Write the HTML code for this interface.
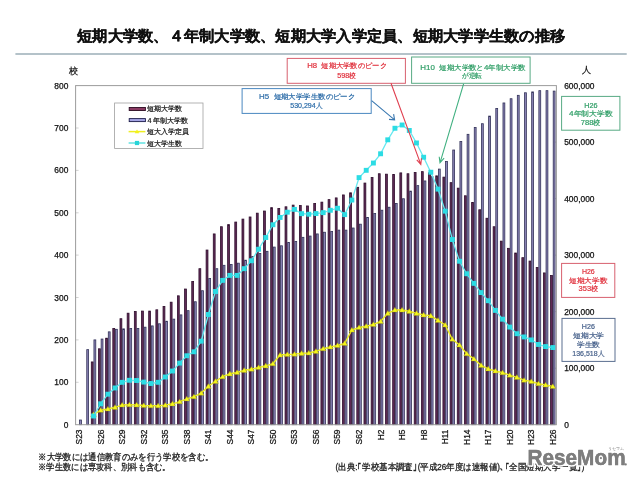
<!DOCTYPE html>
<html lang="ja"><head><meta charset="utf-8">
<style>
html,body{margin:0;padding:0;background:#fff;width:640px;height:480px;overflow:hidden}
svg{display:block;font-family:"Liberation Sans",sans-serif;will-change:transform}
</style></head><body>
<svg width="640" height="480" viewBox="0 0 640 480">
<rect width="640" height="480" fill="#fff"/>
<text x="77" y="40.8" font-size="14.8" font-weight="bold" fill="#111" stroke="#111" stroke-width="0.3" textLength="488" lengthAdjust="spacingAndGlyphs">短期大学数、４年制大学数、短期大学入学定員、短期大学学生数の推移</text>
<line x1="15.4" y1="54" x2="626.7" y2="54" stroke="#b4c2c9" stroke-width="1.9"/>
<g font-size="8.4" fill="#111" stroke="#111" stroke-width="0.25">
<text x="68.3" y="427.7" text-anchor="end">0</text>
<text x="68.3" y="385.3" text-anchor="end">100</text>
<line x1="75.6" y1="382.3" x2="78.6" y2="382.3" stroke="#c8c8c8" stroke-width="0.8"/>
<text x="68.3" y="342.9" text-anchor="end">200</text>
<line x1="75.6" y1="339.9" x2="78.6" y2="339.9" stroke="#c8c8c8" stroke-width="0.8"/>
<text x="68.3" y="300.5" text-anchor="end">300</text>
<line x1="75.6" y1="297.5" x2="78.6" y2="297.5" stroke="#c8c8c8" stroke-width="0.8"/>
<text x="68.3" y="258.1" text-anchor="end">400</text>
<line x1="75.6" y1="255.1" x2="78.6" y2="255.1" stroke="#c8c8c8" stroke-width="0.8"/>
<text x="68.3" y="215.8" text-anchor="end">500</text>
<line x1="75.6" y1="212.8" x2="78.6" y2="212.8" stroke="#c8c8c8" stroke-width="0.8"/>
<text x="68.3" y="173.4" text-anchor="end">600</text>
<line x1="75.6" y1="170.4" x2="78.6" y2="170.4" stroke="#c8c8c8" stroke-width="0.8"/>
<text x="68.3" y="131.0" text-anchor="end">700</text>
<line x1="75.6" y1="128.0" x2="78.6" y2="128.0" stroke="#c8c8c8" stroke-width="0.8"/>
<text x="68.3" y="88.6" text-anchor="end">800</text>
<text x="564.2" y="427.8">0</text>
<text x="564.2" y="371.3">100,000</text>
<line x1="553.4" y1="368.2" x2="556.4" y2="368.2" stroke="#c8c8c8" stroke-width="0.8"/>
<text x="564.2" y="314.8">200,000</text>
<line x1="553.4" y1="311.7" x2="556.4" y2="311.7" stroke="#c8c8c8" stroke-width="0.8"/>
<text x="564.2" y="258.2">300,000</text>
<line x1="553.4" y1="255.1" x2="556.4" y2="255.1" stroke="#c8c8c8" stroke-width="0.8"/>
<text x="564.2" y="201.7">400,000</text>
<line x1="553.4" y1="198.6" x2="556.4" y2="198.6" stroke="#c8c8c8" stroke-width="0.8"/>
<text x="564.2" y="145.2">500,000</text>
<line x1="553.4" y1="142.1" x2="556.4" y2="142.1" stroke="#c8c8c8" stroke-width="0.8"/>
<text x="564.2" y="88.7">600,000</text>
<text transform="translate(82.1,429.5) rotate(-90)" text-anchor="end">S23</text>
<text transform="translate(103.6,429.5) rotate(-90)" text-anchor="end">S26</text>
<text transform="translate(125.1,429.5) rotate(-90)" text-anchor="end">S29</text>
<text transform="translate(146.7,429.5) rotate(-90)" text-anchor="end">S32</text>
<text transform="translate(168.2,429.5) rotate(-90)" text-anchor="end">S35</text>
<text transform="translate(189.7,429.5) rotate(-90)" text-anchor="end">S38</text>
<text transform="translate(211.3,429.5) rotate(-90)" text-anchor="end">S41</text>
<text transform="translate(232.8,429.5) rotate(-90)" text-anchor="end">S44</text>
<text transform="translate(254.3,429.5) rotate(-90)" text-anchor="end">S47</text>
<text transform="translate(275.8,429.5) rotate(-90)" text-anchor="end">S50</text>
<text transform="translate(297.4,429.5) rotate(-90)" text-anchor="end">S53</text>
<text transform="translate(318.9,429.5) rotate(-90)" text-anchor="end">S56</text>
<text transform="translate(340.4,429.5) rotate(-90)" text-anchor="end">S59</text>
<text transform="translate(362.0,429.5) rotate(-90)" text-anchor="end">S62</text>
<text transform="translate(383.5,429.5) rotate(-90)" text-anchor="end">H2</text>
<text transform="translate(405.0,429.5) rotate(-90)" text-anchor="end">H5</text>
<text transform="translate(426.5,429.5) rotate(-90)" text-anchor="end">H8</text>
<text transform="translate(448.1,429.5) rotate(-90)" text-anchor="end">H11</text>
<text transform="translate(469.6,429.5) rotate(-90)" text-anchor="end">H14</text>
<text transform="translate(491.1,429.5) rotate(-90)" text-anchor="end">H17</text>
<text transform="translate(512.7,429.5) rotate(-90)" text-anchor="end">H20</text>
<text transform="translate(534.2,429.5) rotate(-90)" text-anchor="end">H23</text>
<text transform="translate(555.7,429.5) rotate(-90)" text-anchor="end">H26</text>
<text x="69" y="73.5" font-size="9">校</text>
<text x="582.2" y="72.9" font-size="9">人</text>
</g>
<rect x="79.59" y="420.01" width="1.85" height="4.69" fill="#8c84b8" stroke="#323258" stroke-width="0.8"/>
<rect x="86.76" y="349.65" width="1.85" height="75.05" fill="#8c84b8" stroke="#323258" stroke-width="0.8"/>
<rect x="91.29" y="361.94" width="1.85" height="62.76" fill="#602a56" stroke="#2e0e2c" stroke-width="0.8"/>
<rect x="93.94" y="339.90" width="1.85" height="84.80" fill="#8c84b8" stroke="#323258" stroke-width="0.8"/>
<rect x="98.47" y="348.80" width="1.85" height="75.90" fill="#602a56" stroke="#2e0e2c" stroke-width="0.8"/>
<rect x="101.12" y="339.05" width="1.85" height="85.65" fill="#8c84b8" stroke="#323258" stroke-width="0.8"/>
<rect x="105.64" y="338.21" width="1.85" height="86.49" fill="#602a56" stroke="#2e0e2c" stroke-width="0.8"/>
<rect x="108.29" y="331.85" width="1.85" height="92.85" fill="#8c84b8" stroke="#323258" stroke-width="0.8"/>
<rect x="112.82" y="328.46" width="1.85" height="96.24" fill="#602a56" stroke="#2e0e2c" stroke-width="0.8"/>
<rect x="115.47" y="329.30" width="1.85" height="95.40" fill="#8c84b8" stroke="#323258" stroke-width="0.8"/>
<rect x="119.99" y="318.71" width="1.85" height="105.99" fill="#602a56" stroke="#2e0e2c" stroke-width="0.8"/>
<rect x="122.64" y="328.88" width="1.85" height="95.82" fill="#8c84b8" stroke="#323258" stroke-width="0.8"/>
<rect x="127.17" y="313.20" width="1.85" height="111.50" fill="#602a56" stroke="#2e0e2c" stroke-width="0.8"/>
<rect x="129.82" y="328.46" width="1.85" height="96.24" fill="#8c84b8" stroke="#323258" stroke-width="0.8"/>
<rect x="134.35" y="311.50" width="1.85" height="113.20" fill="#602a56" stroke="#2e0e2c" stroke-width="0.8"/>
<rect x="137.00" y="328.46" width="1.85" height="96.24" fill="#8c84b8" stroke="#323258" stroke-width="0.8"/>
<rect x="141.52" y="311.08" width="1.85" height="113.62" fill="#602a56" stroke="#2e0e2c" stroke-width="0.8"/>
<rect x="144.17" y="327.18" width="1.85" height="97.52" fill="#8c84b8" stroke="#323258" stroke-width="0.8"/>
<rect x="148.70" y="311.08" width="1.85" height="113.62" fill="#602a56" stroke="#2e0e2c" stroke-width="0.8"/>
<rect x="151.35" y="325.91" width="1.85" height="98.79" fill="#8c84b8" stroke="#323258" stroke-width="0.8"/>
<rect x="155.88" y="309.81" width="1.85" height="114.89" fill="#602a56" stroke="#2e0e2c" stroke-width="0.8"/>
<rect x="158.53" y="323.79" width="1.85" height="100.91" fill="#8c84b8" stroke="#323258" stroke-width="0.8"/>
<rect x="163.05" y="306.41" width="1.85" height="118.28" fill="#602a56" stroke="#2e0e2c" stroke-width="0.8"/>
<rect x="165.70" y="321.25" width="1.85" height="103.45" fill="#8c84b8" stroke="#323258" stroke-width="0.8"/>
<rect x="170.23" y="302.18" width="1.85" height="122.52" fill="#602a56" stroke="#2e0e2c" stroke-width="0.8"/>
<rect x="172.88" y="319.13" width="1.85" height="105.57" fill="#8c84b8" stroke="#323258" stroke-width="0.8"/>
<rect x="177.40" y="295.82" width="1.85" height="128.88" fill="#602a56" stroke="#2e0e2c" stroke-width="0.8"/>
<rect x="180.05" y="314.89" width="1.85" height="109.81" fill="#8c84b8" stroke="#323258" stroke-width="0.8"/>
<rect x="184.58" y="289.04" width="1.85" height="135.66" fill="#602a56" stroke="#2e0e2c" stroke-width="0.8"/>
<rect x="187.23" y="310.65" width="1.85" height="114.05" fill="#8c84b8" stroke="#323258" stroke-width="0.8"/>
<rect x="191.76" y="281.41" width="1.85" height="143.29" fill="#602a56" stroke="#2e0e2c" stroke-width="0.8"/>
<rect x="194.41" y="301.75" width="1.85" height="122.95" fill="#8c84b8" stroke="#323258" stroke-width="0.8"/>
<rect x="198.93" y="268.69" width="1.85" height="156.01" fill="#602a56" stroke="#2e0e2c" stroke-width="0.8"/>
<rect x="201.58" y="290.73" width="1.85" height="133.97" fill="#8c84b8" stroke="#323258" stroke-width="0.8"/>
<rect x="206.11" y="250.04" width="1.85" height="174.66" fill="#602a56" stroke="#2e0e2c" stroke-width="0.8"/>
<rect x="208.76" y="278.44" width="1.85" height="146.26" fill="#8c84b8" stroke="#323258" stroke-width="0.8"/>
<rect x="213.28" y="233.93" width="1.85" height="190.77" fill="#602a56" stroke="#2e0e2c" stroke-width="0.8"/>
<rect x="215.93" y="268.69" width="1.85" height="156.01" fill="#8c84b8" stroke="#323258" stroke-width="0.8"/>
<rect x="220.46" y="226.73" width="1.85" height="197.97" fill="#602a56" stroke="#2e0e2c" stroke-width="0.8"/>
<rect x="223.11" y="265.30" width="1.85" height="159.40" fill="#8c84b8" stroke="#323258" stroke-width="0.8"/>
<rect x="227.64" y="224.61" width="1.85" height="200.09" fill="#602a56" stroke="#2e0e2c" stroke-width="0.8"/>
<rect x="230.29" y="264.45" width="1.85" height="160.25" fill="#8c84b8" stroke="#323258" stroke-width="0.8"/>
<rect x="234.81" y="222.06" width="1.85" height="202.64" fill="#602a56" stroke="#2e0e2c" stroke-width="0.8"/>
<rect x="237.46" y="263.18" width="1.85" height="161.52" fill="#8c84b8" stroke="#323258" stroke-width="0.8"/>
<rect x="241.99" y="219.10" width="1.85" height="205.60" fill="#602a56" stroke="#2e0e2c" stroke-width="0.8"/>
<rect x="244.64" y="260.21" width="1.85" height="164.49" fill="#8c84b8" stroke="#323258" stroke-width="0.8"/>
<rect x="249.16" y="216.98" width="1.85" height="207.72" fill="#602a56" stroke="#2e0e2c" stroke-width="0.8"/>
<rect x="251.81" y="256.40" width="1.85" height="168.30" fill="#8c84b8" stroke="#323258" stroke-width="0.8"/>
<rect x="256.34" y="213.16" width="1.85" height="211.54" fill="#602a56" stroke="#2e0e2c" stroke-width="0.8"/>
<rect x="258.99" y="253.43" width="1.85" height="171.27" fill="#8c84b8" stroke="#323258" stroke-width="0.8"/>
<rect x="263.52" y="211.04" width="1.85" height="213.66" fill="#602a56" stroke="#2e0e2c" stroke-width="0.8"/>
<rect x="266.17" y="251.31" width="1.85" height="173.39" fill="#8c84b8" stroke="#323258" stroke-width="0.8"/>
<rect x="270.69" y="207.65" width="1.85" height="217.05" fill="#602a56" stroke="#2e0e2c" stroke-width="0.8"/>
<rect x="273.34" y="247.07" width="1.85" height="177.63" fill="#8c84b8" stroke="#323258" stroke-width="0.8"/>
<rect x="277.87" y="208.50" width="1.85" height="216.20" fill="#602a56" stroke="#2e0e2c" stroke-width="0.8"/>
<rect x="280.52" y="245.80" width="1.85" height="178.90" fill="#8c84b8" stroke="#323258" stroke-width="0.8"/>
<rect x="285.05" y="206.80" width="1.85" height="217.90" fill="#602a56" stroke="#2e0e2c" stroke-width="0.8"/>
<rect x="287.70" y="242.41" width="1.85" height="182.29" fill="#8c84b8" stroke="#323258" stroke-width="0.8"/>
<rect x="292.22" y="205.11" width="1.85" height="219.59" fill="#602a56" stroke="#2e0e2c" stroke-width="0.8"/>
<rect x="294.87" y="241.56" width="1.85" height="183.14" fill="#8c84b8" stroke="#323258" stroke-width="0.8"/>
<rect x="299.40" y="205.53" width="1.85" height="219.17" fill="#602a56" stroke="#2e0e2c" stroke-width="0.8"/>
<rect x="302.05" y="237.32" width="1.85" height="187.38" fill="#8c84b8" stroke="#323258" stroke-width="0.8"/>
<rect x="306.57" y="205.96" width="1.85" height="218.74" fill="#602a56" stroke="#2e0e2c" stroke-width="0.8"/>
<rect x="309.22" y="236.05" width="1.85" height="188.65" fill="#8c84b8" stroke="#323258" stroke-width="0.8"/>
<rect x="313.75" y="203.41" width="1.85" height="221.29" fill="#602a56" stroke="#2e0e2c" stroke-width="0.8"/>
<rect x="316.40" y="233.93" width="1.85" height="190.77" fill="#8c84b8" stroke="#323258" stroke-width="0.8"/>
<rect x="320.93" y="202.14" width="1.85" height="222.56" fill="#602a56" stroke="#2e0e2c" stroke-width="0.8"/>
<rect x="323.58" y="232.24" width="1.85" height="192.46" fill="#8c84b8" stroke="#323258" stroke-width="0.8"/>
<rect x="328.10" y="199.60" width="1.85" height="225.10" fill="#602a56" stroke="#2e0e2c" stroke-width="0.8"/>
<rect x="330.75" y="231.39" width="1.85" height="193.31" fill="#8c84b8" stroke="#323258" stroke-width="0.8"/>
<rect x="335.28" y="197.90" width="1.85" height="226.80" fill="#602a56" stroke="#2e0e2c" stroke-width="0.8"/>
<rect x="337.93" y="230.12" width="1.85" height="194.58" fill="#8c84b8" stroke="#323258" stroke-width="0.8"/>
<rect x="342.45" y="194.94" width="1.85" height="229.76" fill="#602a56" stroke="#2e0e2c" stroke-width="0.8"/>
<rect x="345.10" y="230.12" width="1.85" height="194.58" fill="#8c84b8" stroke="#323258" stroke-width="0.8"/>
<rect x="349.63" y="192.82" width="1.85" height="231.88" fill="#602a56" stroke="#2e0e2c" stroke-width="0.8"/>
<rect x="352.28" y="228.00" width="1.85" height="196.70" fill="#8c84b8" stroke="#323258" stroke-width="0.8"/>
<rect x="356.81" y="187.31" width="1.85" height="237.39" fill="#602a56" stroke="#2e0e2c" stroke-width="0.8"/>
<rect x="359.46" y="224.18" width="1.85" height="200.52" fill="#8c84b8" stroke="#323258" stroke-width="0.8"/>
<rect x="363.98" y="183.07" width="1.85" height="241.63" fill="#602a56" stroke="#2e0e2c" stroke-width="0.8"/>
<rect x="366.63" y="217.40" width="1.85" height="207.30" fill="#8c84b8" stroke="#323258" stroke-width="0.8"/>
<rect x="371.16" y="177.56" width="1.85" height="247.14" fill="#602a56" stroke="#2e0e2c" stroke-width="0.8"/>
<rect x="373.81" y="213.59" width="1.85" height="211.11" fill="#8c84b8" stroke="#323258" stroke-width="0.8"/>
<rect x="378.34" y="173.74" width="1.85" height="250.96" fill="#602a56" stroke="#2e0e2c" stroke-width="0.8"/>
<rect x="380.99" y="210.20" width="1.85" height="214.50" fill="#8c84b8" stroke="#323258" stroke-width="0.8"/>
<rect x="385.51" y="174.17" width="1.85" height="250.53" fill="#602a56" stroke="#2e0e2c" stroke-width="0.8"/>
<rect x="388.16" y="207.23" width="1.85" height="217.47" fill="#8c84b8" stroke="#323258" stroke-width="0.8"/>
<rect x="392.69" y="174.59" width="1.85" height="250.11" fill="#602a56" stroke="#2e0e2c" stroke-width="0.8"/>
<rect x="395.34" y="203.41" width="1.85" height="221.29" fill="#8c84b8" stroke="#323258" stroke-width="0.8"/>
<rect x="399.86" y="172.89" width="1.85" height="251.81" fill="#602a56" stroke="#2e0e2c" stroke-width="0.8"/>
<rect x="402.51" y="198.75" width="1.85" height="225.95" fill="#8c84b8" stroke="#323258" stroke-width="0.8"/>
<rect x="407.04" y="173.74" width="1.85" height="250.96" fill="#602a56" stroke="#2e0e2c" stroke-width="0.8"/>
<rect x="409.69" y="191.12" width="1.85" height="233.58" fill="#8c84b8" stroke="#323258" stroke-width="0.8"/>
<rect x="414.22" y="172.47" width="1.85" height="252.23" fill="#602a56" stroke="#2e0e2c" stroke-width="0.8"/>
<rect x="416.87" y="185.61" width="1.85" height="239.09" fill="#8c84b8" stroke="#323258" stroke-width="0.8"/>
<rect x="421.39" y="171.62" width="1.85" height="253.08" fill="#602a56" stroke="#2e0e2c" stroke-width="0.8"/>
<rect x="424.04" y="180.95" width="1.85" height="243.75" fill="#8c84b8" stroke="#323258" stroke-width="0.8"/>
<rect x="428.57" y="172.89" width="1.85" height="251.81" fill="#602a56" stroke="#2e0e2c" stroke-width="0.8"/>
<rect x="431.22" y="176.71" width="1.85" height="247.99" fill="#8c84b8" stroke="#323258" stroke-width="0.8"/>
<rect x="435.74" y="175.86" width="1.85" height="248.84" fill="#602a56" stroke="#2e0e2c" stroke-width="0.8"/>
<rect x="438.39" y="169.08" width="1.85" height="255.62" fill="#8c84b8" stroke="#323258" stroke-width="0.8"/>
<rect x="442.92" y="177.13" width="1.85" height="247.57" fill="#602a56" stroke="#2e0e2c" stroke-width="0.8"/>
<rect x="445.57" y="161.45" width="1.85" height="263.25" fill="#8c84b8" stroke="#323258" stroke-width="0.8"/>
<rect x="450.10" y="182.64" width="1.85" height="242.06" fill="#602a56" stroke="#2e0e2c" stroke-width="0.8"/>
<rect x="452.75" y="150.01" width="1.85" height="274.69" fill="#8c84b8" stroke="#323258" stroke-width="0.8"/>
<rect x="457.27" y="188.15" width="1.85" height="236.55" fill="#602a56" stroke="#2e0e2c" stroke-width="0.8"/>
<rect x="459.92" y="141.53" width="1.85" height="283.17" fill="#8c84b8" stroke="#323258" stroke-width="0.8"/>
<rect x="464.45" y="195.78" width="1.85" height="228.92" fill="#602a56" stroke="#2e0e2c" stroke-width="0.8"/>
<rect x="467.10" y="134.32" width="1.85" height="290.38" fill="#8c84b8" stroke="#323258" stroke-width="0.8"/>
<rect x="471.62" y="202.57" width="1.85" height="222.13" fill="#602a56" stroke="#2e0e2c" stroke-width="0.8"/>
<rect x="474.27" y="127.54" width="1.85" height="297.16" fill="#8c84b8" stroke="#323258" stroke-width="0.8"/>
<rect x="478.80" y="209.77" width="1.85" height="214.93" fill="#602a56" stroke="#2e0e2c" stroke-width="0.8"/>
<rect x="481.45" y="123.72" width="1.85" height="300.98" fill="#8c84b8" stroke="#323258" stroke-width="0.8"/>
<rect x="485.98" y="218.25" width="1.85" height="206.45" fill="#602a56" stroke="#2e0e2c" stroke-width="0.8"/>
<rect x="488.63" y="116.10" width="1.85" height="308.60" fill="#8c84b8" stroke="#323258" stroke-width="0.8"/>
<rect x="493.15" y="226.73" width="1.85" height="197.97" fill="#602a56" stroke="#2e0e2c" stroke-width="0.8"/>
<rect x="495.80" y="108.47" width="1.85" height="316.23" fill="#8c84b8" stroke="#323258" stroke-width="0.8"/>
<rect x="500.33" y="241.14" width="1.85" height="183.56" fill="#602a56" stroke="#2e0e2c" stroke-width="0.8"/>
<rect x="502.98" y="102.96" width="1.85" height="321.75" fill="#8c84b8" stroke="#323258" stroke-width="0.8"/>
<rect x="507.51" y="248.34" width="1.85" height="176.36" fill="#602a56" stroke="#2e0e2c" stroke-width="0.8"/>
<rect x="510.16" y="98.72" width="1.85" height="325.98" fill="#8c84b8" stroke="#323258" stroke-width="0.8"/>
<rect x="514.68" y="253.01" width="1.85" height="171.69" fill="#602a56" stroke="#2e0e2c" stroke-width="0.8"/>
<rect x="517.33" y="95.33" width="1.85" height="329.37" fill="#8c84b8" stroke="#323258" stroke-width="0.8"/>
<rect x="521.86" y="257.67" width="1.85" height="167.03" fill="#602a56" stroke="#2e0e2c" stroke-width="0.8"/>
<rect x="524.51" y="92.78" width="1.85" height="331.92" fill="#8c84b8" stroke="#323258" stroke-width="0.8"/>
<rect x="529.03" y="261.06" width="1.85" height="163.64" fill="#602a56" stroke="#2e0e2c" stroke-width="0.8"/>
<rect x="531.68" y="91.93" width="1.85" height="332.77" fill="#8c84b8" stroke="#323258" stroke-width="0.8"/>
<rect x="536.21" y="267.42" width="1.85" height="157.28" fill="#602a56" stroke="#2e0e2c" stroke-width="0.8"/>
<rect x="538.86" y="90.66" width="1.85" height="334.04" fill="#8c84b8" stroke="#323258" stroke-width="0.8"/>
<rect x="543.39" y="272.93" width="1.85" height="151.77" fill="#602a56" stroke="#2e0e2c" stroke-width="0.8"/>
<rect x="546.04" y="90.66" width="1.85" height="334.04" fill="#8c84b8" stroke="#323258" stroke-width="0.8"/>
<rect x="550.56" y="275.47" width="1.85" height="149.23" fill="#602a56" stroke="#2e0e2c" stroke-width="0.8"/>
<rect x="553.21" y="91.09" width="1.85" height="333.61" fill="#8c84b8" stroke="#323258" stroke-width="0.8"/>
<polyline fill="none" stroke="#eeee22" stroke-width="1.4" points="93.5,414.5 100.7,410.2 107.9,409.0 115.1,407.3 122.2,405.0 129.4,404.7 136.6,404.9 143.8,405.5 150.9,405.7 158.1,405.7 165.3,405.1 172.5,403.8 179.7,401.6 186.8,398.9 194.0,396.7 201.2,393.1 208.4,386.3 215.5,381.3 222.7,376.7 229.9,373.8 237.1,372.5 244.2,370.3 251.4,369.2 258.6,367.5 265.8,365.8 272.9,363.7 280.1,355.0 287.3,354.5 294.5,354.1 301.6,353.3 308.8,353.0 316.0,351.3 323.2,348.7 330.4,347.0 337.5,345.5 344.7,343.3 351.9,330.0 359.1,327.5 366.2,326.2 373.4,324.5 380.6,321.5 387.8,313.3 394.9,310.0 402.1,310.0 409.3,311.3 416.5,313.3 423.6,314.9 430.8,315.8 438.0,320.3 445.2,324.9 452.3,339.2 459.5,345.0 466.7,353.7 473.9,358.9 481.1,365.3 488.2,368.8 495.4,371.0 502.6,372.6 509.8,375.2 516.9,377.3 524.1,380.1 531.3,381.5 538.5,383.6 545.6,385.0 552.8,386.4"/>
<g fill="#f6f61a" stroke="#8a8a20" stroke-width="0.35"><path d="M90.6,416.6L93.5,411.8L96.4,416.6Z"/><path d="M97.8,412.3L100.7,407.5L103.6,412.3Z"/><path d="M105.0,411.1L107.9,406.3L110.8,411.1Z"/><path d="M112.2,409.4L115.1,404.6L118.0,409.4Z"/><path d="M119.3,407.1L122.2,402.3L125.1,407.1Z"/><path d="M126.5,406.8L129.4,402.0L132.3,406.8Z"/><path d="M133.7,407.0L136.6,402.2L139.5,407.0Z"/><path d="M140.9,407.6L143.8,402.8L146.7,407.6Z"/><path d="M148.0,407.8L150.9,403.0L153.8,407.8Z"/><path d="M155.2,407.8L158.1,403.0L161.0,407.8Z"/><path d="M162.4,407.2L165.3,402.4L168.2,407.2Z"/><path d="M169.6,405.9L172.5,401.1L175.4,405.9Z"/><path d="M176.8,403.7L179.7,398.9L182.6,403.7Z"/><path d="M183.9,401.0L186.8,396.2L189.7,401.0Z"/><path d="M191.1,398.8L194.0,394.0L196.9,398.8Z"/><path d="M198.3,395.2L201.2,390.4L204.1,395.2Z"/><path d="M205.5,388.4L208.4,383.6L211.3,388.4Z"/><path d="M212.6,383.4L215.5,378.6L218.4,383.4Z"/><path d="M219.8,378.8L222.7,374.0L225.6,378.8Z"/><path d="M227.0,375.9L229.9,371.1L232.8,375.9Z"/><path d="M234.2,374.6L237.1,369.8L240.0,374.6Z"/><path d="M241.3,372.4L244.2,367.6L247.1,372.4Z"/><path d="M248.5,371.3L251.4,366.5L254.3,371.3Z"/><path d="M255.7,369.6L258.6,364.8L261.5,369.6Z"/><path d="M262.9,367.9L265.8,363.1L268.7,367.9Z"/><path d="M270.0,365.8L272.9,361.0L275.8,365.8Z"/><path d="M277.2,357.1L280.1,352.3L283.0,357.1Z"/><path d="M284.4,356.6L287.3,351.8L290.2,356.6Z"/><path d="M291.6,356.2L294.5,351.4L297.4,356.2Z"/><path d="M298.7,355.4L301.6,350.6L304.5,355.4Z"/><path d="M305.9,355.1L308.8,350.3L311.7,355.1Z"/><path d="M313.1,353.4L316.0,348.6L318.9,353.4Z"/><path d="M320.3,350.8L323.2,346.0L326.1,350.8Z"/><path d="M327.5,349.1L330.4,344.3L333.3,349.1Z"/><path d="M334.6,347.6L337.5,342.8L340.4,347.6Z"/><path d="M341.8,345.4L344.7,340.6L347.6,345.4Z"/><path d="M349.0,332.1L351.9,327.3L354.8,332.1Z"/><path d="M356.2,329.6L359.1,324.8L362.0,329.6Z"/><path d="M363.3,328.3L366.2,323.5L369.1,328.3Z"/><path d="M370.5,326.6L373.4,321.8L376.3,326.6Z"/><path d="M377.7,323.6L380.6,318.8L383.5,323.6Z"/><path d="M384.9,315.4L387.8,310.6L390.7,315.4Z"/><path d="M392.0,312.1L394.9,307.3L397.8,312.1Z"/><path d="M399.2,312.1L402.1,307.3L405.0,312.1Z"/><path d="M406.4,313.4L409.3,308.6L412.2,313.4Z"/><path d="M413.6,315.4L416.5,310.6L419.4,315.4Z"/><path d="M420.7,317.0L423.6,312.2L426.5,317.0Z"/><path d="M427.9,317.9L430.8,313.1L433.7,317.9Z"/><path d="M435.1,322.4L438.0,317.6L440.9,322.4Z"/><path d="M442.3,327.0L445.2,322.2L448.1,327.0Z"/><path d="M449.4,341.3L452.3,336.5L455.2,341.3Z"/><path d="M456.6,347.1L459.5,342.3L462.4,347.1Z"/><path d="M463.8,355.8L466.7,351.0L469.6,355.8Z"/><path d="M471.0,361.0L473.9,356.2L476.8,361.0Z"/><path d="M478.2,367.4L481.1,362.6L484.0,367.4Z"/><path d="M485.3,370.9L488.2,366.1L491.1,370.9Z"/><path d="M492.5,373.1L495.4,368.3L498.3,373.1Z"/><path d="M499.7,374.7L502.6,369.9L505.5,374.7Z"/><path d="M506.9,377.3L509.8,372.5L512.7,377.3Z"/><path d="M514.0,379.4L516.9,374.6L519.8,379.4Z"/><path d="M521.2,382.2L524.1,377.4L527.0,382.2Z"/><path d="M528.4,383.6L531.3,378.8L534.2,383.6Z"/><path d="M535.6,385.7L538.5,380.9L541.4,385.7Z"/><path d="M542.7,387.1L545.6,382.3L548.5,387.1Z"/><path d="M549.9,388.5L552.8,383.7L555.7,388.5Z"/></g>
<polyline fill="none" stroke="#66e8f0" stroke-width="1.3" points="93.5,416.0 100.7,403.8 107.9,394.2 115.1,388.0 122.2,382.3 129.4,380.3 136.6,380.5 143.8,382.1 150.9,383.5 158.1,382.3 165.3,377.0 172.5,371.0 179.7,363.1 186.8,355.7 194.0,351.8 201.2,341.2 208.4,314.5 215.5,291.5 222.7,280.4 229.9,275.4 237.1,275.4 244.2,268.7 251.4,260.7 258.6,249.2 265.8,237.5 272.9,224.7 280.1,217.5 287.3,212.2 294.5,209.4 301.6,213.7 308.8,214.2 316.0,213.6 323.2,212.6 330.4,210.3 337.5,208.2 344.7,214.6 351.9,200.0 359.1,177.6 366.2,170.3 373.4,163.0 380.6,153.8 387.8,139.8 394.9,128.2 402.1,125.0 409.3,130.5 416.5,143.0 423.6,157.2 430.8,172.2 438.0,189.1 445.2,211.2 452.3,239.5 459.5,261.3 466.7,273.8 473.9,283.4 481.1,292.6 488.2,300.7 495.4,310.4 502.6,319.2 509.8,327.1 516.9,333.7 524.1,336.9 531.3,339.9 538.5,344.5 545.6,346.6 552.8,347.5"/>
<g fill="#2cdce4"><rect x="91.09" y="413.55" width="4.9" height="4.9"/><rect x="98.27" y="401.34" width="4.9" height="4.9"/><rect x="105.44" y="391.73" width="4.9" height="4.9"/><rect x="112.62" y="385.51" width="4.9" height="4.9"/><rect x="119.79" y="379.86" width="4.9" height="4.9"/><rect x="126.97" y="377.83" width="4.9" height="4.9"/><rect x="134.15" y="378.05" width="4.9" height="4.9"/><rect x="141.32" y="379.64" width="4.9" height="4.9"/><rect x="148.50" y="381.05" width="4.9" height="4.9"/><rect x="155.68" y="379.86" width="4.9" height="4.9"/><rect x="162.85" y="374.55" width="4.9" height="4.9"/><rect x="170.03" y="368.56" width="4.9" height="4.9"/><rect x="177.20" y="360.65" width="4.9" height="4.9"/><rect x="184.38" y="353.30" width="4.9" height="4.9"/><rect x="191.56" y="349.34" width="4.9" height="4.9"/><rect x="198.73" y="338.72" width="4.9" height="4.9"/><rect x="205.91" y="312.04" width="4.9" height="4.9"/><rect x="213.08" y="289.04" width="4.9" height="4.9"/><rect x="220.26" y="277.91" width="4.9" height="4.9"/><rect x="227.44" y="272.93" width="4.9" height="4.9"/><rect x="234.61" y="272.93" width="4.9" height="4.9"/><rect x="241.79" y="266.21" width="4.9" height="4.9"/><rect x="248.96" y="258.30" width="4.9" height="4.9"/><rect x="256.14" y="246.77" width="4.9" height="4.9"/><rect x="263.32" y="235.07" width="4.9" height="4.9"/><rect x="270.49" y="222.29" width="4.9" height="4.9"/><rect x="277.67" y="215.00" width="4.9" height="4.9"/><rect x="284.85" y="209.75" width="4.9" height="4.9"/><rect x="292.02" y="206.92" width="4.9" height="4.9"/><rect x="299.20" y="211.22" width="4.9" height="4.9"/><rect x="306.37" y="211.78" width="4.9" height="4.9"/><rect x="313.55" y="211.10" width="4.9" height="4.9"/><rect x="320.73" y="210.20" width="4.9" height="4.9"/><rect x="327.90" y="207.83" width="4.9" height="4.9"/><rect x="335.08" y="205.79" width="4.9" height="4.9"/><rect x="342.25" y="212.18" width="4.9" height="4.9"/><rect x="349.43" y="197.60" width="4.9" height="4.9"/><rect x="356.61" y="175.16" width="4.9" height="4.9"/><rect x="363.78" y="167.87" width="4.9" height="4.9"/><rect x="370.96" y="160.58" width="4.9" height="4.9"/><rect x="378.14" y="151.32" width="4.9" height="4.9"/><rect x="385.31" y="137.36" width="4.9" height="4.9"/><rect x="392.49" y="125.80" width="4.9" height="4.9"/><rect x="399.66" y="122.55" width="4.9" height="4.9"/><rect x="406.84" y="128.00" width="4.9" height="4.9"/><rect x="414.02" y="140.51" width="4.9" height="4.9"/><rect x="421.19" y="154.77" width="4.9" height="4.9"/><rect x="428.37" y="169.76" width="4.9" height="4.9"/><rect x="435.54" y="186.67" width="4.9" height="4.9"/><rect x="442.72" y="208.70" width="4.9" height="4.9"/><rect x="449.90" y="237.06" width="4.9" height="4.9"/><rect x="457.07" y="258.80" width="4.9" height="4.9"/><rect x="464.25" y="271.30" width="4.9" height="4.9"/><rect x="471.42" y="280.92" width="4.9" height="4.9"/><rect x="478.60" y="290.14" width="4.9" height="4.9"/><rect x="485.78" y="298.28" width="4.9" height="4.9"/><rect x="492.95" y="307.94" width="4.9" height="4.9"/><rect x="500.13" y="316.75" width="4.9" height="4.9"/><rect x="507.31" y="324.63" width="4.9" height="4.9"/><rect x="514.48" y="331.27" width="4.9" height="4.9"/><rect x="521.66" y="334.49" width="4.9" height="4.9"/><rect x="528.83" y="337.47" width="4.9" height="4.9"/><rect x="536.01" y="342.01" width="4.9" height="4.9"/><rect x="543.19" y="344.11" width="4.9" height="4.9"/><rect x="550.36" y="345.09" width="4.9" height="4.9"/></g>
<rect x="75.6" y="85.6" width="480.8" height="339.1" fill="none" stroke="#9c9c9c" stroke-width="1"/>
<!-- legend -->
<g>
<rect x="114.6" y="103" width="88.4" height="45.5" fill="#fff" stroke="#a0a0a0" stroke-width="0.8"/>
<rect x="129.2" y="107.5" width="16.2" height="3" fill="#8a3a62" stroke="#2a0a20" stroke-width="0.9"/>
<rect x="129.2" y="118.6" width="16.2" height="3" fill="#a4a4e4" stroke="#1a1a48" stroke-width="0.9"/>
<line x1="128.6" y1="131.6" x2="145.4" y2="131.6" stroke="#eeee22" stroke-width="1.5"/>
<path d="M134.7,133.3L137,129.4L139.3,133.3Z" fill="#f4f418"/>
<line x1="128.6" y1="143" x2="145.4" y2="143" stroke="#48dede" stroke-width="1.3"/>
<rect x="134.9" y="140.9" width="4.2" height="4.2" fill="#28d4d8"/>
<g font-size="7.2" fill="#1a1a1a" stroke="#1a1a1a" stroke-width="0.22">
<text x="147.4" y="111.4">短期大学数</text>
<text x="147.4" y="122.7">4 年制大学数</text>
<text x="147.4" y="134.2">短大入学定員</text>
<text x="147.4" y="145.6">短大学生数</text>
</g>
</g>
<!-- annotations -->
<g font-size="7.45">
<rect x="287.2" y="58.4" width="118.2" height="24.9" fill="#fff" stroke="#d8606e" stroke-width="1"/>
<text x="307.15" y="68.08" fill="#e0303c" stroke="#e0303c" stroke-width="0.2" textLength="79.80" lengthAdjust="spacingAndGlyphs">H8  短期大学数のピーク</text>
<text x="337.35" y="78.08" fill="#e0303c" stroke="#e0303c" stroke-width="0.2" textLength="18.70" lengthAdjust="spacingAndGlyphs">598校</text>
<rect x="411.6" y="57" width="118.5" height="26.3" fill="#fff" stroke="#58aa84" stroke-width="1"/>
<text x="420.35" y="69.78" fill="#2f9e66" stroke="#2f9e66" stroke-width="0.2" textLength="105.20" lengthAdjust="spacingAndGlyphs">H10  短期大学数と4年制大学数</text>
<text x="461.95" y="77.98" fill="#2f9e66" stroke="#2f9e66" stroke-width="0.2" textLength="19.90" lengthAdjust="spacingAndGlyphs">が逆転</text>
<rect x="242.1" y="88.6" width="129.1" height="24.8" fill="#fff" stroke="#4a88c0" stroke-width="1"/>
<text x="259.05" y="99.28" fill="#2c6ca8" stroke="#2c6ca8" stroke-width="0.2" textLength="96.30" lengthAdjust="spacingAndGlyphs">H5  短期大学学生数のピーク</text>
<text x="290.25" y="108.28" fill="#2c6ca8" stroke="#2c6ca8" stroke-width="0.2" textLength="32.00" lengthAdjust="spacingAndGlyphs">530,294人</text>
<rect x="561.6" y="96.4" width="58.3" height="33.8" fill="#fff" stroke="#58aa84" stroke-width="1"/>
<text x="584.25" y="107.68" fill="#2f9e66" stroke="#2f9e66" stroke-width="0.2" textLength="13.30" lengthAdjust="spacingAndGlyphs">H26</text>
<text x="568.95" y="116.38" fill="#2f9e66" stroke="#2f9e66" stroke-width="0.2" textLength="43.50" lengthAdjust="spacingAndGlyphs">4年制大学数</text>
<text x="580.85" y="124.68" fill="#2f9e66" stroke="#2f9e66" stroke-width="0.2" textLength="19.80" lengthAdjust="spacingAndGlyphs">788校</text>
<rect x="561.6" y="263.4" width="53.2" height="34" fill="#fff" stroke="#d8606e" stroke-width="1"/>
<text x="581.95" y="274.08" fill="#e0303c" stroke="#e0303c" stroke-width="0.2" textLength="12.80" lengthAdjust="spacingAndGlyphs">H26</text>
<text x="569.25" y="283.08" fill="#e0303c" stroke="#e0303c" stroke-width="0.2" textLength="38.10" lengthAdjust="spacingAndGlyphs">短期大学数</text>
<text x="578.55" y="291.48" fill="#e0303c" stroke="#e0303c" stroke-width="0.2" textLength="19.60" lengthAdjust="spacingAndGlyphs">353校</text>
<rect x="562" y="318.4" width="53" height="43" fill="#fff" stroke="#5a6e90" stroke-width="1"/>
<text x="581.85" y="329.18" fill="#46608a" stroke="#46608a" stroke-width="0.2" textLength="13.00" lengthAdjust="spacingAndGlyphs">H26</text>
<text x="573.05" y="338.08" fill="#46608a" stroke="#46608a" stroke-width="0.2" textLength="31.10" lengthAdjust="spacingAndGlyphs">短期大学</text>
<text x="576.95" y="346.88" fill="#46608a" stroke="#46608a" stroke-width="0.2" textLength="23.10" lengthAdjust="spacingAndGlyphs">学生数</text>
<text x="572.25" y="355.68" fill="#46608a" stroke="#46608a" stroke-width="0.2" textLength="31.90" lengthAdjust="spacingAndGlyphs">136,518人</text>
</g>
<!-- arrows -->
<g fill="none" stroke-width="1.1">
<path d="M371.6,100.6L394.6,119.8M389,119.4L394.6,119.8L393.6,114.2" stroke="#3a78b0"/>
<path d="M391,83.3L420.8,164.4M416.8,159.8L420.8,164.4L421.5,158.3" stroke="#e04050"/>
<path d="M463.6,83.9L440,162.8M439.2,156.7L440,162.8L444.1,158.2" stroke="#40b080"/>
</g>
<!-- footnotes -->
<g font-size="8.5" fill="#222" stroke="#222" stroke-width="0.3">
<text x="38.2" y="460" textLength="175" lengthAdjust="spacingAndGlyphs">※大学数には通信教育のみを行う学校を含む。</text>
<text x="38.2" y="469.8" textLength="132.5" lengthAdjust="spacingAndGlyphs">※学生数には専攻科、別科も含む。</text>
<text x="335.5" y="470.2" textLength="249" lengthAdjust="spacingAndGlyphs">(出典:｢学校基本調査｣(平成26年度は速報値)､｢全国短期大学一覧｣)</text>
</g>
<!-- logo -->
<g fill="#7e7e7e">
<text x="0" y="0" font-size="22.5" font-weight="bold" stroke="#fff" stroke-width="3.6" paint-order="stroke" stroke-linejoin="round" transform="translate(527.4,465.2) scale(0.925,1)">ReseMom</text>
<text x="0" y="0" font-size="22.5" font-weight="bold" stroke="#7e7e7e" stroke-width="0.4" transform="translate(527.4,465.2) scale(0.925,1)">ReseMom</text>
<circle cx="625.7" cy="464.4" r="1.15"/>
<circle cx="600.9" cy="458.1" r="1.1"/>
<text x="607.8" y="449.9" font-size="4.3" textLength="16.2" lengthAdjust="spacingAndGlyphs">リセマム</text>
</g>
</svg>
</body></html>
